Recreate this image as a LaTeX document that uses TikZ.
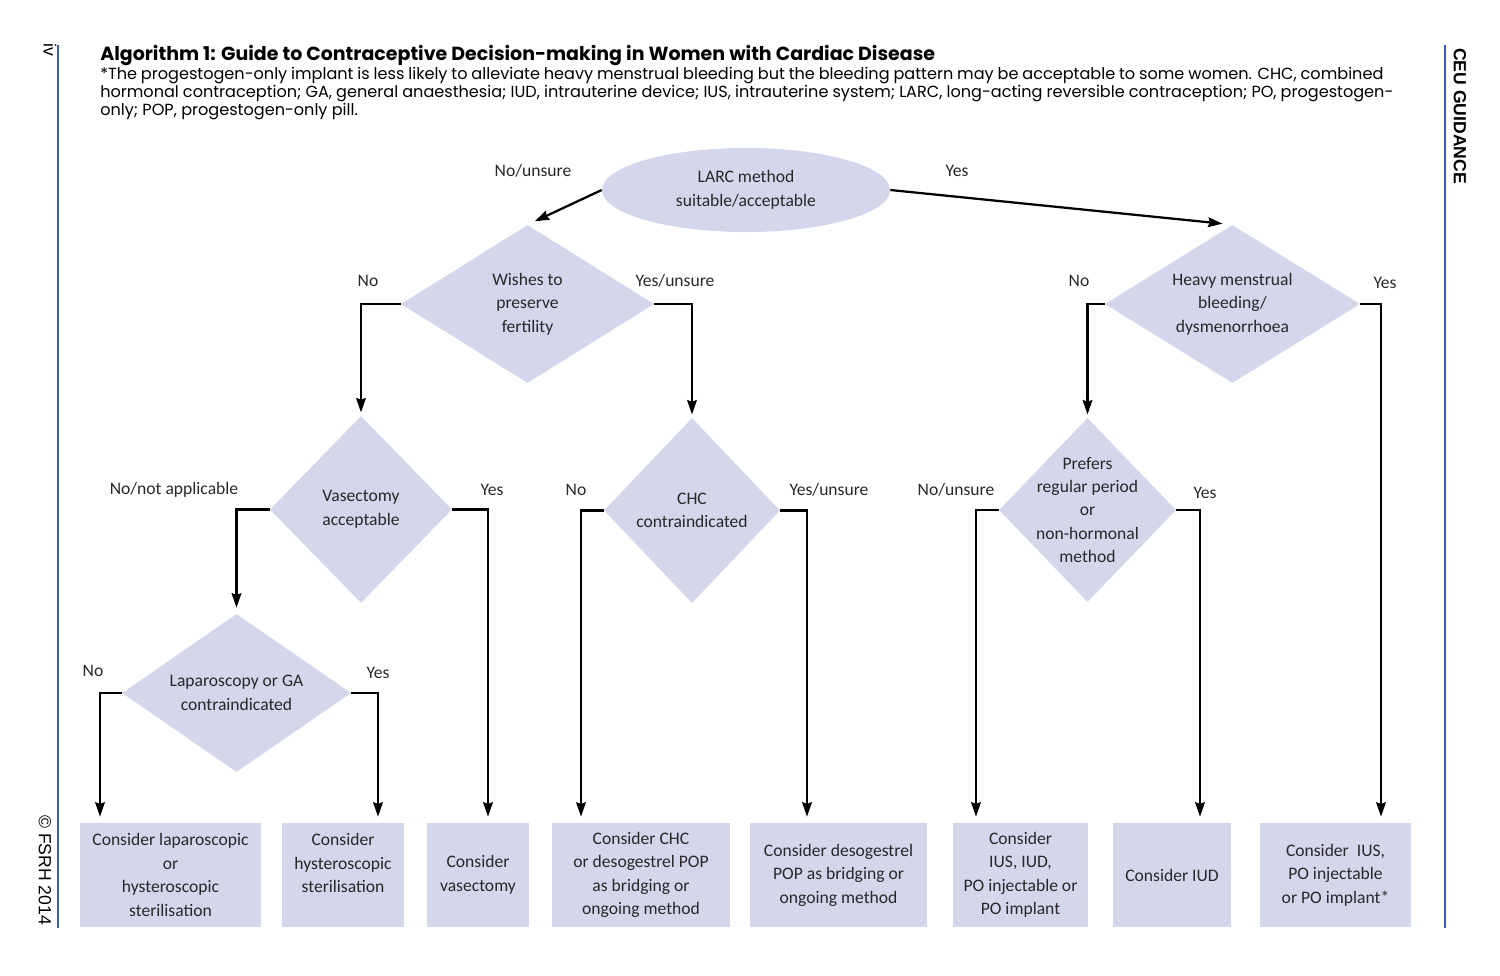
\documentclass[tikz,border=0pt]{standalone}
\usepackage{fontspec}
\setmainfont{Carlito}
\newfontfamily\titlefont{Poppins}
\newfontfamily\marginfont{Liberation Sans}
\usepackage{xcolor}
\usepackage{tikz}
\usetikzlibrary{positioning}
\usetikzlibrary{calc,shapes.geometric,arrows.meta}

\definecolor{boxfill}{RGB}{212,214,236}
\definecolor{rulecol}{RGB}{56,88,186}
\definecolor{inkgrey}{RGB}{40,40,40}

\begin{document}
\begin{tikzpicture}[x=0.025cm, y=-0.025cm,
		txt/.style={font=\fontsize{12.5}{16.7}\selectfont, text=inkgrey, align=center},
		decision/.style={diamond, fill=boxfill, inner sep=0pt},
		choice/.style={ellipse, fill=boxfill, inner sep=0pt, txt},
		action/.style={rectangle, fill=boxfill, inner sep=0pt, minimum height=2.6cm, txt},
		answer/.style={txt, inner sep=0pt},
		flow/.style={line width=1.6pt, -{Stealth[length=0.36cm, width=0.24cm, inset=0.04cm]}},
		margin/.style={font=\marginfont\fontsize{12.5}{15}\selectfont, rotate=-90, inner sep=0pt},
		side/.style={draw=rulecol, line width=0.9pt},
		fnote/.style={anchor=base west, inner sep=0pt, font=\titlefont\fontsize{11.45}{13}\selectfont},
	]
		
		% ---------------------
		% Proper size --- Bounding box
		\useasboundingbox (0,0) rectangle (1500,975);
		
		% ---------------------
		% Page margins
		\draw[side] (58,45) coordinate (LeftTop) -- (58,928) coordinate (LeftBot);
		\draw[side] (1445,45) coordinate (RightTop) -- (1445,928) coordinate (RightBot);
		
		\node[margin] (PageNo) at (50,50) {iv};
		\node[margin] (Copy) at (45,870) {\textcopyright{} FSRH 2014};
		\node[margin, font=\marginfont\bfseries\fontsize{12.5}{15}\selectfont] (Ceu) at (1460,116) {CEU GUIDANCE};
		
		% ---------------------
		% Heading & footnote
		\node[anchor=base west, inner sep=0pt, font=\titlefont\bfseries\fontsize{13.5}{16}\selectfont] (Title) at (100,60)
			{Algorithm 1: Guide to Contraceptive Decision-making in Women with Cardiac Disease};
		\node[fnote] (FnA) at (100,79)
			{\makebox[32.07cm][s]{*The progestogen-only implant is less likely to alleviate heavy menstrual bleeding but the bleeding pattern may be acceptable to some women. CHC, combined}};
		\node[fnote] (FnB) at (100,97)
			{\makebox[32.32cm][s]{hormonal contraception; GA, general anaesthesia; IUD, intrauterine device; IUS, intrauterine system; LARC, long-acting reversible contraception; PO, progestogen-}};
		\node[fnote] (FnC) at (100,115)
			{only; POP, progestogen-only pill.};
		
		% ---------------------
		% Questions
		\node[choice, minimum width=7.2cm, minimum height=2.1cm] (LARC) at (746,190)
			{LARC method\\suitable/acceptable};
		
		\node[decision, minimum width=6.325cm, minimum height=3.95cm,
			label={[txt]center:{Wishes to\\preserve\\fertility}}] (Fertility) at (527.5,304) {};
		\node[decision, minimum width=6.375cm, minimum height=3.95cm,
			label={[txt]center:{Heavy menstrual\\bleeding/\\dysmenorrhoea}}] (Heavy) at (1232.5,304) {};
		
		\node[decision, minimum width=4.55cm, minimum height=4.675cm,
			label={[txt]center:{Vasectomy\\acceptable}}] (Vasect) at (361,509.5) {};
		\node[decision, minimum width=4.4cm, minimum height=4.625cm,
			label={[txt]center:{CHC\\contraindicated}}] (CHC) at (692,510.5) {};
		\node[decision, minimum width=4.425cm, minimum height=4.6cm,
			label={[txt]center:{Prefers\\regular period\\or\\non-hormonal\\method}}] (Prefers) at (1087.5,510) {};
		
		\node[decision, minimum width=5.725cm, minimum height=3.95cm,
			label={[txt]center:{Laparoscopy or GA\\contraindicated}}] (Lapar) at (236.5,693) {};
		
		% ---------------------
		% Outcomes
		\node[action, minimum width=4.525cm] (OutLapHys) at (170.5,875)
			{Consider laparoscopic\\or\\hysteroscopic\\sterilisation};
		\node[action, minimum width=3.05cm] (OutHys) at (343,875)
			{Consider\\hysteroscopic\\sterilisation\\\mbox{}};
		\node[action, minimum width=2.55cm] (OutVas) at (478,875)
			{Consider\\vasectomy};
		\node[action, minimum width=4.45cm] (OutCHC) at (641,875)
			{Consider CHC\\or desogestrel POP\\as bridging or\\ongoing method};
		\node[action, minimum width=4.425cm] (OutPOP) at (838.5,875)
			{Consider desogestrel\\POP as bridging or\\ongoing method};
		\node[action, minimum width=3.375cm] (OutAny) at (1020.5,875)
			{Consider\\IUS, IUD,\\PO injectable or\\PO implant};
		\node[action, minimum width=2.95cm] (OutIUD) at (1172,875)
			{Consider IUD};
		\node[action, minimum width=3.775cm] (OutIUS) at (1335.5,875)
			{Consider~ IUS,\\PO injectable\\or PO implant*};
		
		% ---------------------
		% Arrow ends above the outcomes
		\path (OutLapHys.north) +(-70.5,-6) coordinate (EndLapNo);
		\path (OutHys.north) +(35,-6) coordinate (EndLapYes);
		\path (OutVas.north) +(10,-6) coordinate (EndVasYes);
		\path (OutCHC.north) +(-60,-6) coordinate (EndCHCNo);
		\path (OutPOP.north) +(-31.5,-6) coordinate (EndCHCYes);
		\path (OutAny.north) +(-44.5,-6) coordinate (EndPrefNo);
		\path (OutIUD.north) +(28,-6) coordinate (EndPrefYes);
		\path (OutIUS.north) +(45.5,-6) coordinate (EndHeavyYes);
		
		% ---------------------
		% Answers
		\node[answer] (AnsLARCno) at (533,171) {No/unsure};
		\node[answer] (AnsLARCyes) at (957,171) {Yes};
		\node[answer] (AnsFertNo) at (368,281) {No};
		\node[answer] (AnsFertYes) at (675,281) {Yes/unsure};
		\node[answer] (AnsHeavyNo) at (1079,281) {No};
		\node[answer] (AnsHeavyYes) at (1385,283) {Yes};
		\node[answer] (AnsVasNo) at (174,490) {No/not applicable};
		\node[answer] (AnsVasYes) at (492,490) {Yes};
		\node[answer] (AnsCHCNo) at (576,490) {No};
		\node[answer] (AnsCHCYes) at (829,490) {Yes/unsure};
		\node[answer] (AnsPrefNo) at (956,490) {No/unsure};
		\node[answer] (AnsPrefYes) at (1205,493) {Yes};
		\node[answer] (AnsLapNo) at (93,671) {No};
		\node[answer] (AnsLapYes) at (378,673) {Yes};
		
		% ---------------------
		% Connectors
		\draw[flow, shorten >=0.2cm] (LARC.west) -- (Fertility.north);
		\draw[flow, shorten >=0.25cm] (LARC.east) -- (Heavy.north);
		
		\draw[flow, shorten >=0.08cm] (Fertility.west) -| (Vasect.north);
		\draw[flow, shorten >=0.08cm] (Fertility.east) -| (CHC.north);
		\draw[flow, shorten >=0.08cm] (Heavy.west) -| (Prefers.north);
		\draw[flow] (Heavy.east) -| (EndHeavyYes);
		
		\draw[flow, shorten >=0.15cm] (Vasect.west) -| (Lapar.north);
		\draw[flow] (Vasect.east) -| (EndVasYes);
		\draw[flow] (CHC.west) -| (EndCHCNo);
		\draw[flow] (CHC.east) -| (EndCHCYes);
		\draw[flow] (Prefers.west) -| (EndPrefNo);
		\draw[flow] (Prefers.east) -| (EndPrefYes);
		
		\draw[flow] (Lapar.west) -| (EndLapNo);
		\draw[flow] (Lapar.east) -| (EndLapYes);
		
\end{tikzpicture}
\end{document}
